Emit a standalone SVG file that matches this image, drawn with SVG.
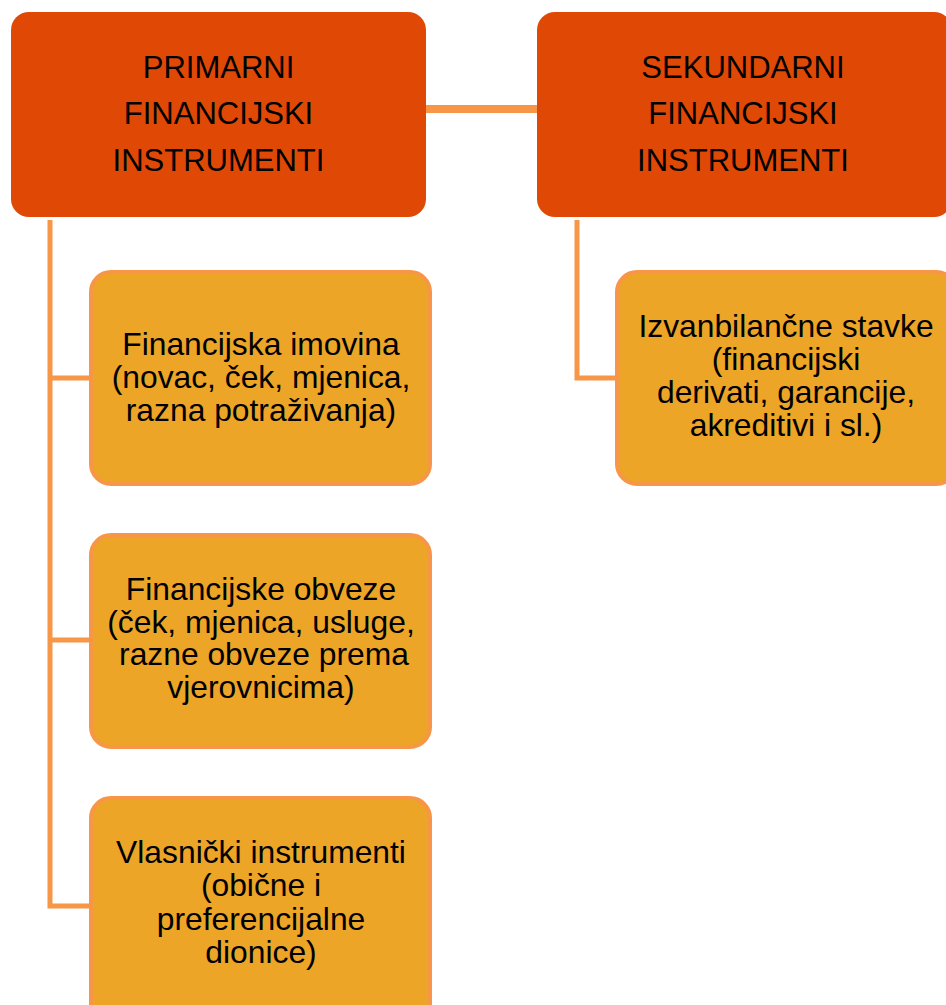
<svg xmlns="http://www.w3.org/2000/svg" width="946" height="1005" viewBox="0 0 946 1005">
<style>
.top{fill:#E04806}
.child{fill:#ECA527;stroke:#F79646;stroke-width:4}
.conn{stroke:#F79646;fill:none}
text{font-family:"Liberation Sans",Arial,sans-serif;fill:#000;text-anchor:middle}
.t1{font-size:31px}
.t2{font-size:31.8px}
</style>
<rect width="946" height="1005" fill="#fff"/>
<g id="connectors">
<line class="conn" x1="421" y1="109" x2="542" y2="109" stroke-width="8"/>
<polyline class="conn" points="50,220 50,906 90,906" stroke-width="5"/>
<line class="conn" x1="50" y1="378" x2="90" y2="378" stroke-width="5"/>
<line class="conn" x1="50" y1="640" x2="90" y2="640" stroke-width="5"/>
<polyline class="conn" points="577,220 577,378 616,378" stroke-width="5"/>
</g>
<g id="primarni">
<rect class="top" x="11" y="12" width="415" height="205" rx="18"/>
<text class="t1"><tspan x="218.5" y="78">PRIMARNI</tspan><tspan x="218.5" y="124">FINANCIJSKI</tspan><tspan x="218.5" y="171">INSTRUMENTI</tspan></text>
</g>
<g id="sekundarni">
<rect class="top" x="537" y="12" width="415" height="205" rx="18"/>
<text class="t1"><tspan x="743" y="78">SEKUNDARNI</tspan><tspan x="743" y="124">FINANCIJSKI</tspan><tspan x="743" y="171">INSTRUMENTI</tspan></text>
</g>
<g id="imovina">
<rect class="child" x="91" y="272" width="339" height="212" rx="20"/>
<text class="t2"><tspan x="261" y="355">Financijska imovina</tspan><tspan x="261" y="388">(novac, ček, mjenica,</tspan><tspan x="261" y="421">razna potraživanja)</tspan></text>
</g>
<g id="obveze">
<rect class="child" x="91" y="535" width="339" height="212" rx="20"/>
<text class="t2"><tspan x="261" y="600">Financijske obveze</tspan><tspan x="261" y="633">(ček, mjenica, usluge,</tspan><tspan x="264" y="665">razne obveze prema</tspan><tspan x="261" y="698">vjerovnicima)</tspan></text>
</g>
<g id="vlasnicki">
<rect class="child" x="91" y="798" width="339" height="230" rx="20"/>
<text class="t2"><tspan x="261" y="863">Vlasnički instrumenti</tspan><tspan x="261" y="896">(obične i</tspan><tspan x="261" y="930">preferencijalne</tspan><tspan x="261" y="963">dionice)</tspan></text>
</g>
<g id="izvanbilancne">
<rect class="child" x="617" y="272" width="339" height="212" rx="20"/>
<text class="t2"><tspan x="786" y="337">Izvanbilančne stavke</tspan><tspan x="786" y="370">(financijski</tspan><tspan x="786" y="403">derivati, garancije,</tspan><tspan x="786" y="436">akreditivi i sl.)</tspan></text>
</g>
</svg>
